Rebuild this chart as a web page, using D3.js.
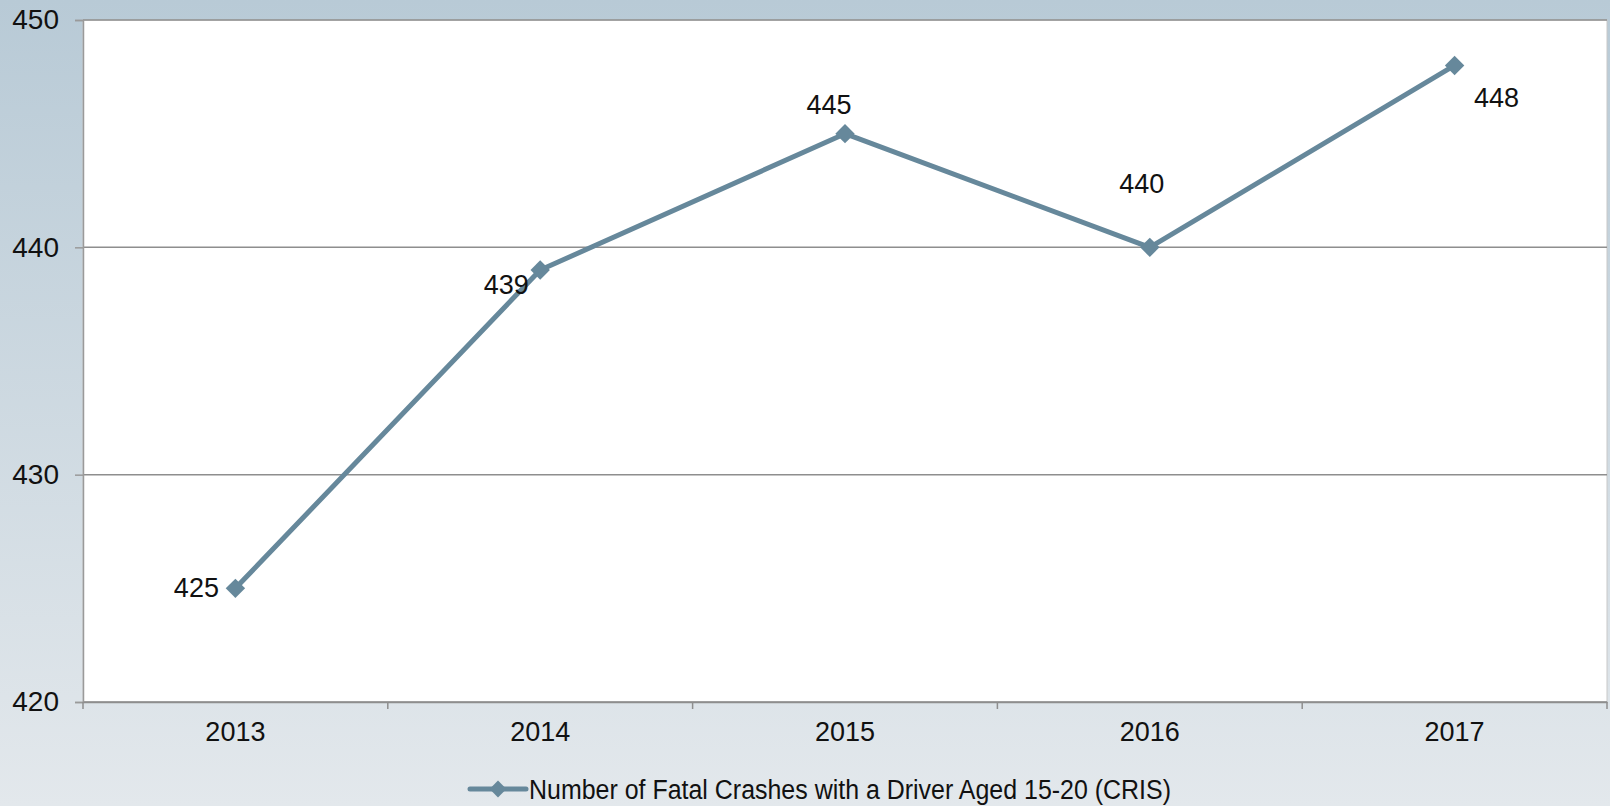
<!DOCTYPE html>
<html>
    <head>
        <meta charset="utf-8">
        <script src="https://d3js.org/d3.v7.min.js"></script>
        <title>Fatal Crashes</title>
        <style>
            html, body { margin: 0; padding: 0; overflow: hidden; }
            text { font-family: "Liberation Sans", Arial, sans-serif; fill: #111; }
        </style>
    </head>
    <body>
        <script>
            /* data */
            const years = ['2013', '2014', '2015', '2016', '2017']
            const crashes = [425, 439, 445, 440, 448]
            const yTicks = [420, 430, 440, 450]
            const seriesName = 'Number of Fatal Crashes with a Driver Aged 15-20 (CRIS)'

            // label offsets from each point (dx, dy of text centre)
            const labelOffsets = [[-39, 0], [-34, 15], [-16, -29], [-8, -63], [42, 33]]

            /* canvas setup */
            const width = 1610
            const height = 806
            const margin = { top: 20, right: 3, bottom: 104, left: 83 }
            const lineColor = '#66889b'

            const svg = d3.select('body')
                .append('svg')
                    .attr('width', width)
                    .attr('height', height)

            const defs = svg.append('defs')
            const grad = defs.append('linearGradient')
                .attr('id', 'bg')
                .attr('x1', 0).attr('y1', 0).attr('x2', 0).attr('y2', 1)
            grad.append('stop').attr('offset', '0%').attr('stop-color', '#b8cad6')
            grad.append('stop').attr('offset', '100%').attr('stop-color', '#e3e8ec')

            svg.append('rect')
                .attr('width', width)
                .attr('height', height)
                .attr('fill', 'url(#bg)')

            const x = d3.scaleBand()
                .domain(years)
                .range([margin.left, width - margin.right])

            const y = d3.scaleLinear()
                .domain([420, 450])
                .range([height - margin.bottom, margin.top])

            /* plot area */
            svg.append('rect')
                .attr('x', margin.left)
                .attr('y', margin.top)
                .attr('width', width - margin.right - margin.left)
                .attr('height', height - margin.bottom - margin.top)
                .attr('fill', '#fff')
                .attr('stroke', '#c8c8c8')
                .attr('stroke-width', 1)

            /* gridlines */
            svg.append('g')
                .selectAll('line')
                .data(yTicks)
                .join('line')
                    .attr('x1', margin.left)
                    .attr('x2', width - margin.right)
                    .attr('y1', d => y(d))
                    .attr('y2', d => y(d))
                    .attr('stroke', '#8e8e8e')
                    .attr('stroke-width', 1.5)

            /* y axis */
            const yAxis = svg.append('g')
                .attr('transform', `translate(${margin.left},0)`)
                .call(d3.axisLeft(y).tickValues(yTicks).tickSize(8).tickPadding(16))
            yAxis.select('.domain').attr('stroke', '#9a9a9a').attr('stroke-width', 1.5)
            yAxis.selectAll('.tick line').attr('stroke', '#9a9a9a').attr('stroke-width', 1.5)
            yAxis.selectAll('.tick text')
                .style('font-family', '"Liberation Sans", Arial, sans-serif')
                .style('font-size', '28px')
                .attr('fill', '#111')

            /* x axis */
            const xAxis = svg.append('g')
                .attr('transform', `translate(0,${height - margin.bottom})`)
                .call(d3.axisBottom(x).tickSize(0).tickPadding(20))
            xAxis.select('.domain').attr('stroke', '#8e8e8e').attr('stroke-width', 1.5)
            xAxis.selectAll('.tick text')
                .style('font-family', '"Liberation Sans", Arial, sans-serif')
                .style('font-size', '27px')
                .attr('fill', '#111')

            // category boundary ticks
            const bounds = years.map(d => x(d)).concat([x(years[years.length - 1]) + x.bandwidth()])
            svg.append('g')
                .selectAll('line')
                .data(bounds)
                .join('line')
                    .attr('x1', d => d)
                    .attr('x2', d => d)
                    .attr('y1', height - margin.bottom)
                    .attr('y2', height - margin.bottom + 7)
                    .attr('stroke', '#8e8e8e')
                    .attr('stroke-width', 1.5)

            const cx = (d, i) => x(years[i]) + x.bandwidth() / 2

            /* line */
            const line = d3.line()
                .x(cx)
                .y(d => y(d))

            svg.append('path')
                .datum(crashes)
                .attr('d', line)
                .attr('fill', 'none')
                .attr('stroke', lineColor)
                .attr('stroke-width', 5)
                .attr('stroke-linejoin', 'round')

            const diamond = d3.symbol().type(d3.symbolDiamond2).size(240)

            svg.append('g')
                .selectAll('path')
                .data(crashes)
                .join('path')
                    .attr('d', diamond)
                    .attr('transform', (d, i) => `translate(${cx(d, i)},${y(d)})`)
                    .attr('fill', lineColor)

            /* data labels */
            svg.append('g')
                .selectAll('text')
                .data(crashes)
                .join('text')
                    .attr('x', (d, i) => cx(d, i) + labelOffsets[i][0])
                    .attr('y', (d, i) => y(d) + labelOffsets[i][1])
                    .attr('text-anchor', 'middle')
                    .attr('dominant-baseline', 'central')
                    .style('font-size', '27px')
                    .text(d => d)

            /* legend */
            const legend = svg.append('g').attr('transform', 'translate(470,789)')
            legend.append('line')
                .attr('x1', 0).attr('x2', 56)
                .attr('stroke', lineColor)
                .attr('stroke-width', 5)
                .attr('stroke-linecap', 'round')
            legend.append('path')
                .attr('d', d3.symbol().type(d3.symbolDiamond2).size(180))
                .attr('transform', 'translate(28,0)')
                .attr('fill', lineColor)
            legend.append('text')
                .attr('x', 59)
                .attr('y', 10)
                .attr('textLength', 642)
                .attr('lengthAdjust', 'spacingAndGlyphs')
                .style('font-size', '27px')
                .text(seriesName)
        </script>
    </body>
</html>
